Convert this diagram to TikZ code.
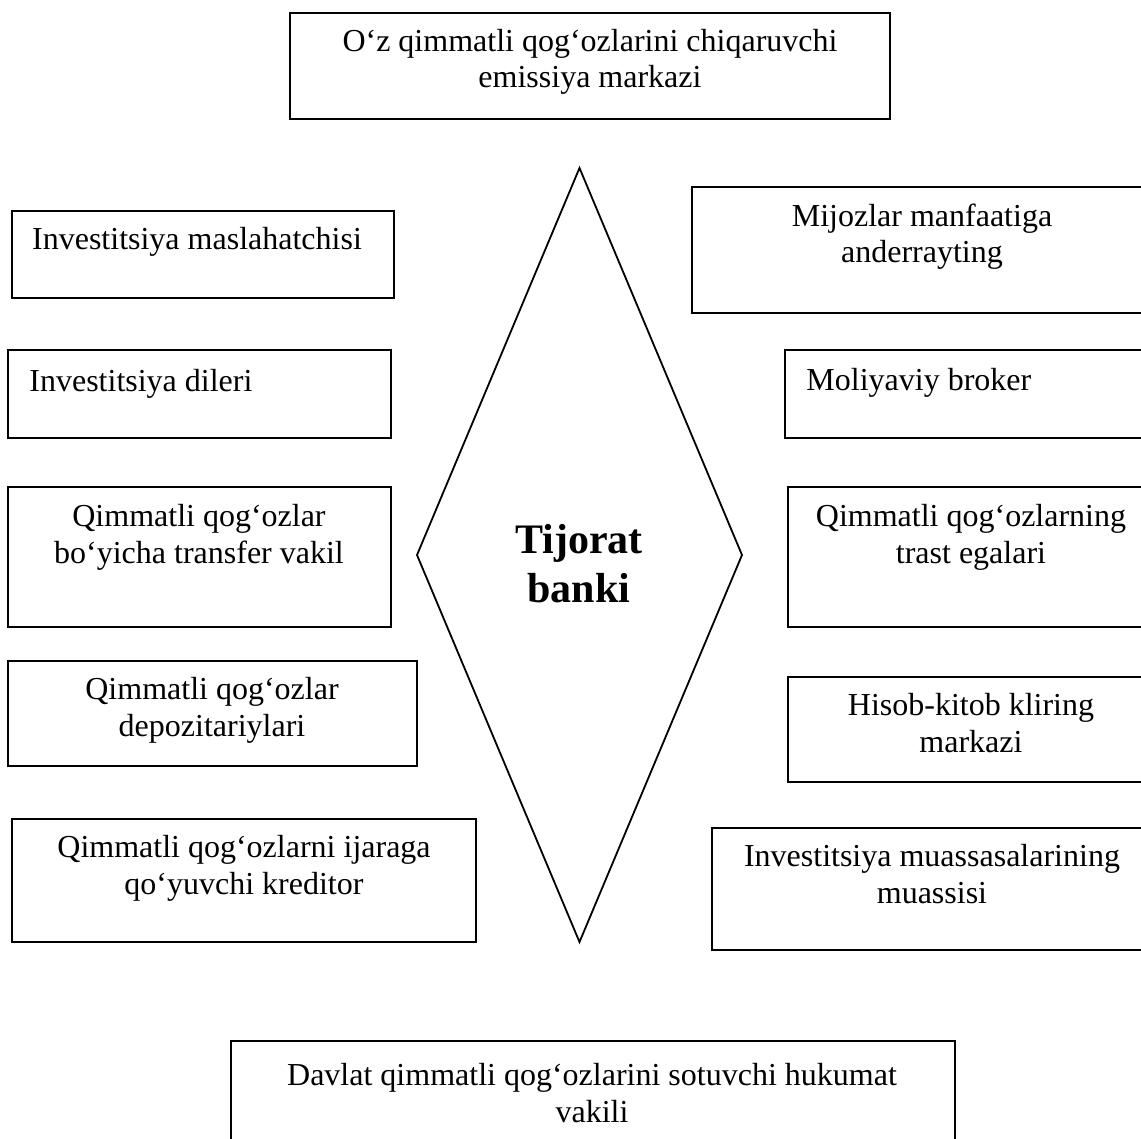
\documentclass[tikz,border=0pt]{standalone}
\usepackage{fontspec}
\setmainfont{Liberation Serif}
\usetikzlibrary{fit,shapes.geometric}
\begin{document}
\begin{tikzpicture}[x=0.5pt,y=-0.5pt,
  box/.style={draw, line width=0.9pt, inner sep=0pt, outer sep=0pt},
  lbl/.style={font=\fontsize{16}{18.3}\selectfont, align=center, inner sep=0pt},
  big/.style={font=\bfseries\fontsize{21}{24.5}\selectfont, align=center, inner sep=0pt}]
\useasboundingbox (0,0) rectangle (1141,1139);
% boxes
\node[box, fit={(290,13) (890,119)}] (T) {};
\node[box, fit={(12,211) (394,298)}] (L1) {};
\node[box, fit={(8,350) (391,438)}] (L2) {};
\node[box, fit={(8,487) (391,627)}] (L3) {};
\node[box, fit={(8,661) (417,766)}] (L4) {};
\node[box, fit={(12,819) (476,942)}] (L5) {};
\node[box, fit={(692,187) (1152,313)}] (R1) {};
\node[box, fit={(785,350) (1154,438)}] (R2) {};
\node[box, fit={(788,487) (1154,627)}] (R3) {};
\node[box, fit={(788,677) (1154,782)}] (R4) {};
\node[box, fit={(712,828) (1152,950)}] (R5) {};
\node[box, fit={(231,1041) (955,1160)}] (B) {};
% diamond
\node[draw, diamond, line width=0.9pt, minimum width=162.5pt, minimum height=387pt, inner sep=0pt, outer sep=0pt] (D) at (579.5,555) {};
% labels (base anchor = baseline of the last line)
\node[lbl, anchor=base] (Tt) at (590,88) {O‘z qimmatli qog‘ozlarini chiqaruvchi\\emissiya markazi};
\node[lbl, anchor=base] (L1t) at (197,250) {Investitsiya maslahatchisi};
\node[lbl, anchor=base west] (L2t) at (29,392) {Investitsiya dileri};
\node[lbl, anchor=base] (L3t) at (199,563) {Qimmatli qog‘ozlar\\bo‘yicha transfer vakil};
\node[lbl, anchor=base] (L4t) at (212,736) {Qimmatli qog‘ozlar\\depozitariylari};
\node[lbl, anchor=base] (L5t) at (244,894) {Qimmatli qog‘ozlarni ijaraga\\qo‘yuvchi kreditor};
\node[lbl, anchor=base] (R1t) at (922,263) {Mijozlar manfaatiga\\anderrayting};
\node[lbl, anchor=base west] (R2t) at (806,390) {Moliyaviy broker};
\node[lbl, anchor=base] (R3t) at (971,563) {Qimmatli qog‘ozlarning\\trast egalari};
\node[lbl, anchor=base] (R4t) at (971,752) {Hisob-kitob kliring\\markazi};
\node[lbl, anchor=base] (R5t) at (932,903) {Investitsiya muassasalarining\\muassisi};
\node[lbl, anchor=base] (Bt) at (592,1122) {Davlat qimmatli qog‘ozlarini sotuvchi hukumat\\vakili};
\node[big, anchor=base] (Dt) at (579,602) {Tijorat\\banki};
\end{tikzpicture}
\end{document}
